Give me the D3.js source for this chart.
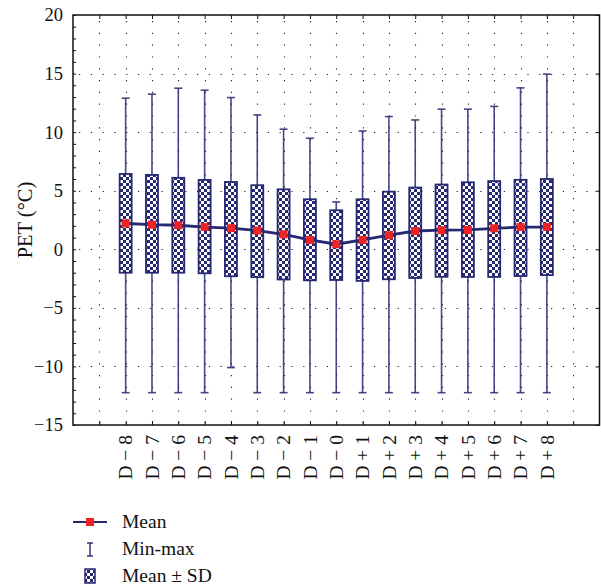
<!DOCTYPE html>
<html><head><meta charset="utf-8">
<script src="https://cdn.jsdelivr.net/npm/d3@7"></script>
<style>body{margin:0;background:#fff}svg{display:block}</style>
</head><body>
<svg id="c" width="601" height="585"></svg>
<script>
const categories = ["D − 8","D − 7","D − 6","D − 5","D − 4","D − 3","D − 2","D − 1","D − 0",
  "D + 1","D + 2","D + 3","D + 4","D + 5","D + 6","D + 7","D + 8"];
const meanValues = [2.2,2.1,2.05,1.9,1.8,1.6,1.28,0.8,0.43,0.8,1.2,1.56,1.63,1.65,1.79,1.9,1.9];
const sdUpper = [6.43,6.35,6.1,5.92,5.75,5.47,5.12,4.27,3.33,4.27,4.92,5.27,5.53,5.72,5.82,5.93,6.0];
const sdLower = [-2.0,-2.0,-2.0,-2.05,-2.3,-2.38,-2.58,-2.65,-2.62,-2.7,-2.56,-2.45,-2.35,-2.36,-2.36,-2.28,-2.2];
const maxValues = [12.9,13.24,13.75,13.58,12.95,11.47,10.25,9.48,4.04,10.1,11.33,11.04,11.96,11.96,12.2,13.78,14.95];
const minValues = [-12.24,-12.24,-12.24,-12.24,-10.1,-12.24,-12.24,-12.24,-12.24,-12.24,-12.24,-12.24,-12.24,-12.24,-12.24,-12.24,-12.24];
const yTicks = [-15,-10,-5,0,5,10,15,20];
const legendLabels = ["Mean","Min-max","Mean ± SD"];

const navy = "#262872", red = "#ec2424";
const font = "'Liberation Serif','Times New Roman',serif";
const svg = d3.select("#c");
const L = 73, R = 599.5, T = 15, B = 425;
const x = d3.scaleLinear().domain([-2, 18]).range([L, R]);
const y = d3.scaleLinear().domain([-15, 20]).range([B, T]);
const idx = d3.range(categories.length);
const gridIdx = d3.range(-1, 18);

// pattern
const defs = svg.append("defs");
const pat = defs.append("pattern").attr("id","chk").attr("patternUnits","userSpaceOnUse")
  .attr("width",6).attr("height",6);
pat.append("rect").attr("width",6).attr("height",6).attr("fill",navy);
pat.append("rect").attr("x",0).attr("y",0).attr("width",3).attr("height",3).attr("fill","#fff");
pat.append("rect").attr("x",3).attr("y",3).attr("width",3).attr("height",3).attr("fill","#fff");

// grid
const grid = svg.append("g").attr("stroke","#222").attr("stroke-width",1.1).attr("stroke-dasharray","1.2 10.6");
grid.selectAll(".vg").data(gridIdx).join("line")
  .attr("x1",d=>Math.round(x(d))+0.5).attr("x2",d=>Math.round(x(d))+0.5).attr("y1",T+6).attr("y2",B);
grid.selectAll(".hg").data(yTicks.filter(v=>v>-15&&v<20)).join("line")
  .attr("x1",L+6).attr("x2",R).attr("y1",d=>Math.round(y(d))+0.5).attr("y2",d=>Math.round(y(d))+0.5);

// axes with inward ticks
const yAxisL = d3.axisLeft(y).tickValues(yTicks).tickSize(0).tickPadding(10)
  .tickFormat(d=>d<0?"−"+Math.abs(d):d);
const gl = svg.append("g").attr("transform",`translate(${L},0)`).call(yAxisL);
gl.select(".domain").remove();
gl.selectAll("text").attr("font-family",font).attr("font-size",18.5).attr("fill","#111");
svg.append("g").attr("transform",`translate(${L},0)`)
  .call(d3.axisRight(y).ticks(35).tickSize(3).tickFormat(""))
  .call(g=>g.select(".domain").remove()).selectAll("line").attr("stroke","#111");
svg.append("g").attr("transform",`translate(${R},0)`)
  .call(d3.axisLeft(y).tickValues(yTicks).tickSize(4).tickFormat(""))
  .call(g=>g.select(".domain").remove()).selectAll("line").attr("stroke","#111");
svg.append("g").attr("transform",`translate(0,${B})`)
  .call(d3.axisTop(x).tickValues(gridIdx).tickSize(4).tickFormat(""))
  .call(g=>g.select(".domain").remove()).selectAll("line").attr("stroke","#111");
svg.append("g").attr("transform",`translate(0,${T})`)
  .call(d3.axisBottom(x).tickValues(gridIdx).tickSize(4).tickFormat(""))
  .call(g=>g.select(".domain").remove()).selectAll("line").attr("stroke","#111");

// x labels
svg.append("g").selectAll("text").data(idx).join("text")
  .attr("transform",d=>`translate(${x(d)},${B+10}) rotate(-90)`)
  .attr("text-anchor","end").attr("dy","0.35em")
  .attr("font-family",font).attr("font-size",19.5).attr("fill","#111")
  .text(d=>categories[d]);

// y label
svg.append("text").attr("transform",`translate(25,${(T+B)/2}) rotate(-90)`)
  .attr("text-anchor","middle").attr("dy","0.35em")
  .attr("font-family",font).attr("font-size",20.5).attr("fill","#111").text("PET (°C)");

// whiskers
const wh = svg.append("g").attr("stroke",navy).attr("stroke-width",1.6).attr("stroke-opacity",0.85);
wh.selectAll(".w").data(idx).join("line")
  .attr("x1",d=>x(d)).attr("x2",d=>x(d)).attr("y1",d=>y(maxValues[d])).attr("y2",d=>y(minValues[d]));
wh.selectAll(".ct").data(idx).join("line")
  .attr("x1",d=>x(d)-4).attr("x2",d=>x(d)+4).attr("y1",d=>y(maxValues[d])).attr("y2",d=>y(maxValues[d]));
wh.selectAll(".cb").data(idx).join("line")
  .attr("x1",d=>x(d)-4).attr("x2",d=>x(d)+4).attr("y1",d=>y(minValues[d])).attr("y2",d=>y(minValues[d]));

// boxes
const bw = 12;
svg.append("g").selectAll("rect").data(idx).join("rect")
  .attr("x",d=>x(d)-bw/2).attr("width",bw)
  .attr("y",d=>y(sdUpper[d])).attr("height",d=>y(sdLower[d])-y(sdUpper[d]))
  .attr("fill","url(#chk)").attr("stroke",navy).attr("stroke-width",1.8);

// mean line + markers
svg.append("path").datum(idx)
  .attr("d",d3.line().x(d=>x(d)).y(d=>y(meanValues[d])))
  .attr("fill","none").attr("stroke",navy).attr("stroke-width",2.8);
svg.append("g").selectAll("rect").data(idx).join("rect")
  .attr("x",d=>x(d)-4).attr("y",d=>y(meanValues[d])-4).attr("width",8).attr("height",8).attr("fill",red);

// frame
svg.append("rect").attr("x",L).attr("y",T).attr("width",R-L).attr("height",B-T)
  .attr("fill","none").attr("stroke","#111").attr("stroke-width",1.5);

// legend
const lg = svg.append("g");
const lx = 90, ly = [522, 549, 576];
lg.append("line").attr("x1",lx-17).attr("x2",lx+17).attr("y1",ly[0]).attr("y2",ly[0]).attr("stroke",navy).attr("stroke-width",1.8);
lg.append("rect").attr("x",lx-4).attr("y",ly[0]-4).attr("width",8).attr("height",8).attr("fill",red);
const ig = lg.append("g").attr("stroke",navy).attr("stroke-width",1.4);
ig.append("line").attr("x1",lx).attr("x2",lx).attr("y1",ly[1]-6).attr("y2",ly[1]+7);
ig.append("line").attr("x1",lx-3).attr("x2",lx+3).attr("y1",ly[1]-6).attr("y2",ly[1]-6);
ig.append("line").attr("x1",lx-3).attr("x2",lx+3).attr("y1",ly[1]+7).attr("y2",ly[1]+7);
lg.append("rect").attr("x",lx-5).attr("y",ly[2]-7).attr("width",10).attr("height",14)
  .attr("fill","url(#chk)").attr("stroke",navy).attr("stroke-width",1.5);
lg.selectAll("text").data(legendLabels).join("text")
  .attr("x",122).attr("y",(d,i)=>ly[i]+6)
  .attr("font-family",font).attr("font-size",19.5).attr("fill","#111").text(d=>d);
</script>
</body></html>
